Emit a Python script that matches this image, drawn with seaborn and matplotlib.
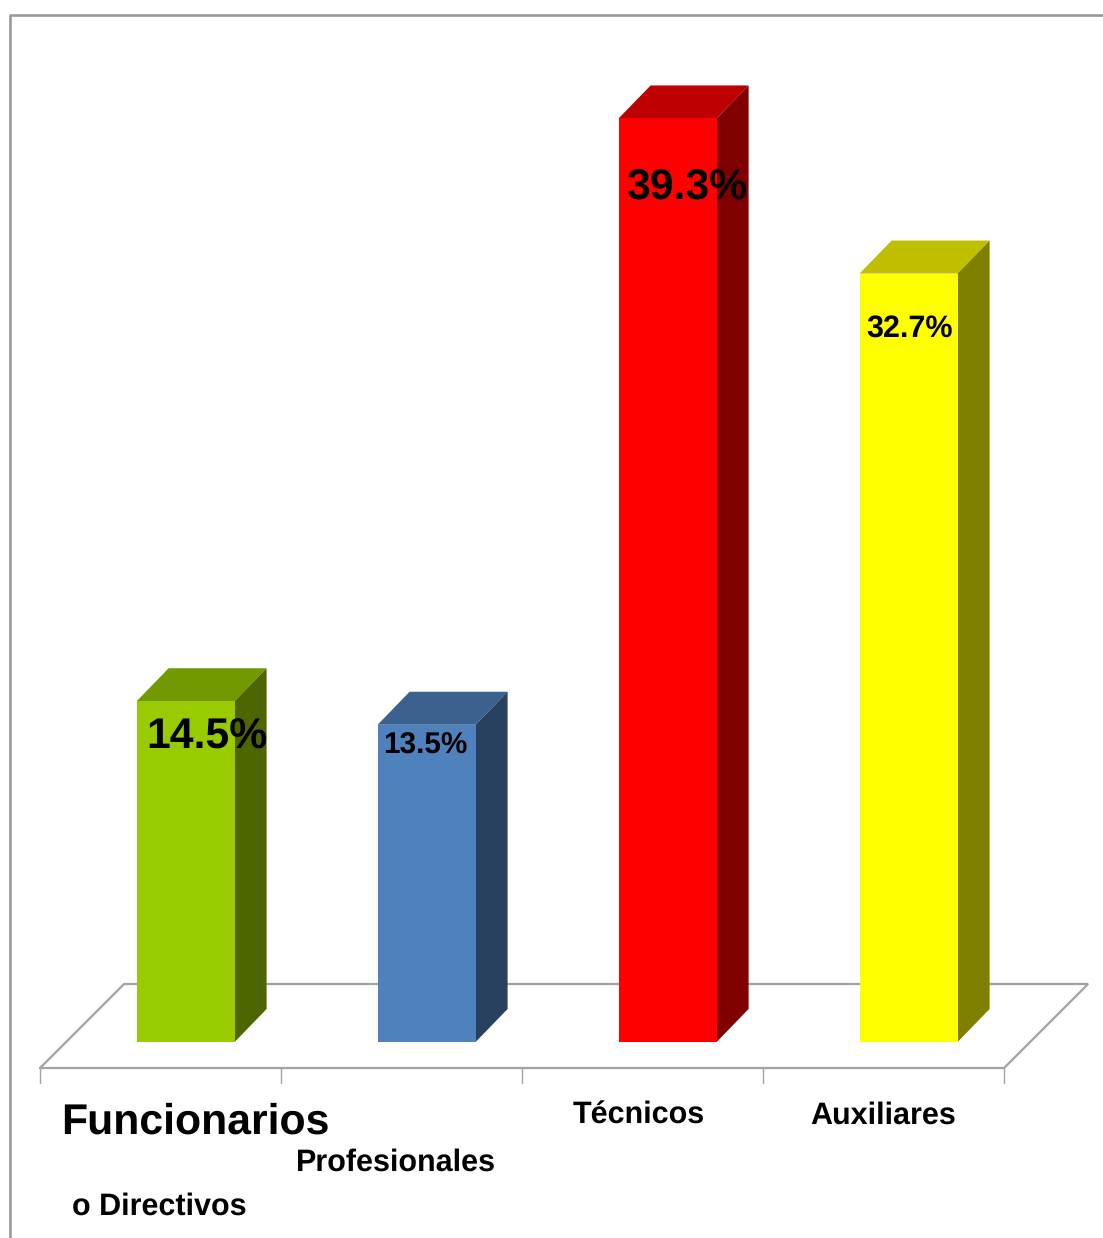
import matplotlib
matplotlib.use("Agg")
import matplotlib.pyplot as plt
from matplotlib.colors import to_rgb
from matplotlib.lines import Line2D
from matplotlib.patches import Polygon
from matplotlib.transforms import Affine2D
import pandas as pd
import seaborn as sns

# Share of staff per occupational group (percent)
categories = ["Funcionarios o Directivos", "Profesionales", "Técnicos", "Auxiliares"]
shares = [14.5, 13.5, 39.3, 32.7]
bar_colors = ["#99CC00", "#4F81BD", "#FF0000", "#FFFF00"]
value_labels = ["14.5%", "13.5%", "39.3%", "32.7%"]

WIDTH, HEIGHT, DPI = 1103, 1238, 100
sns.set_theme(style="white")
plt.rcParams["font.family"] = ["Liberation Sans", "DejaVu Sans"]
plt.rcParams["font.weight"] = "bold"
plt.rcParams["text.hinting"] = "no_hinting"

fig = plt.figure(figsize=(WIDTH / DPI, HEIGHT / DPI), dpi=DPI, facecolor="white")
ax = fig.add_axes([0, 0, 1, 1])

# Axis limits place the plot baseline and category spacing on the canvas
PX_PER_CAT = 241.0
PX_PER_UNIT = 23.5
X0_PX, Y0_PX = 185.6, 1042.0

frame = pd.DataFrame({"group": categories, "share": shares})
sns.barplot(
    data=frame, x="group", y="share", hue="group", palette=bar_colors,
    order=categories, hue_order=categories, dodge=False, legend=False,
    width=98 / PX_PER_CAT, saturation=1, ax=ax, linewidth=0, zorder=3,
)
ax.set_xlim(-X0_PX / PX_PER_CAT, (WIDTH - X0_PX) / PX_PER_CAT)
ax.set_ylim(-(HEIGHT - Y0_PX) / PX_PER_UNIT, Y0_PX / PX_PER_UNIT)
ax.axis("off")

# Canvas coordinates measured from the top-left corner
canvas = Affine2D().scale(1, -1).translate(0, HEIGHT)

GRAY = "#A3A3A3"
DEPTH_X = 32 / PX_PER_CAT
DEPTH_Y = 33 / PX_PER_UNIT
FLOOR_SHIFT = -25 / PX_PER_CAT
FLOOR_FRONT = -26 / PX_PER_UNIT
FLOOR_BACK = 58 / PX_PER_UNIT
TICK_LEN = 15 / PX_PER_UNIT


def shade(color, factor):
    return tuple(c * factor for c in to_rgb(color))


# Outer border on the top and left edges only
ax.add_line(Line2D([10, 10, WIDTH], [HEIGHT, 14.5, 14.5], transform=canvas,
                   color="#9A9A9A", lw=1.9, clip_on=False, zorder=1))

# Floor plane under the bars
edges = [i - 0.5 + FLOOR_SHIFT for i in range(len(categories) + 1)]
floor_dx = 84 / PX_PER_CAT
ax.add_line(Line2D(
    [edges[0], edges[0] + floor_dx, edges[-1] + floor_dx, edges[-1], edges[0]],
    [FLOOR_FRONT, FLOOR_BACK, FLOOR_BACK, FLOOR_FRONT, FLOOR_FRONT],
    color=GRAY, lw=1.6, zorder=1, solid_joinstyle="miter"))
for edge in edges:
    ax.add_line(Line2D([edge, edge], [FLOOR_FRONT, FLOOR_FRONT - TICK_LEN],
                       color=GRAY, lw=1.0, zorder=1))

# Top and side faces give each bar its extruded look
for bar, color in zip(ax.patches, bar_colors):
    left, right = bar.get_x(), bar.get_x() + bar.get_width()
    top = bar.get_height()
    ax.add_patch(Polygon(
        [(left, top), (right, top), (right + DEPTH_X, top + DEPTH_Y),
         (left + DEPTH_X, top + DEPTH_Y)],
        closed=True, facecolor=shade(color, 0.75), edgecolor="none", zorder=2))
    ax.add_patch(Polygon(
        [(right, 0), (right, top), (right + DEPTH_X, top + DEPTH_Y),
         (right + DEPTH_X, DEPTH_Y)],
        closed=True, facecolor=shade(color, 0.5), edgecolor="none", zorder=2))

# Value labels, offset from the top of each bar
label_sizes = [30.8, 21.4, 30.8, 22]
label_offsets = [(21.5, -36), (-1.5, -21), (19, -69), (1, -55)]
for i, (share, text) in enumerate(zip(shares, value_labels)):
    ax.annotate(text, xy=(i, share), xycoords="data",
                xytext=label_offsets[i], textcoords="offset pixels",
                ha="center", va="center", fontsize=label_sizes[i],
                fontweight="bold", color="black", zorder=5)

# Category names set at the sizes and heights used on the baseline
name_parts = [
    ("Funcionarios", 195, 1122, 30.8),
    ("o Directivos", 159, 1207, 22),
    ("Profesionales", 396, 1163, 22),
    ("Técnicos", 639, 1116, 22),
    ("Auxiliares", 883, 1116, 22),
]
for text, x, y, size in name_parts:
    ax.text(x, y, text, transform=canvas, ha="center", va="center",
            fontsize=size, fontweight="bold", color="black", zorder=5)

fig.savefig("out.png", dpi=DPI, facecolor="white")
